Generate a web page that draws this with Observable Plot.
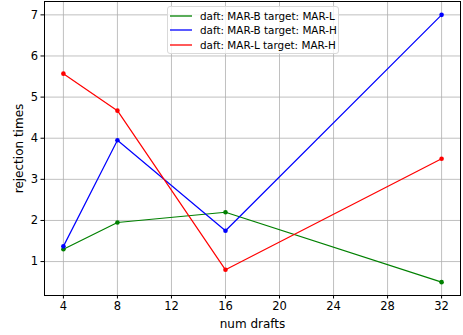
<!DOCTYPE html>
<html><head>
<meta charset="utf-8">
<script src="https://cdn.jsdelivr.net/npm/d3@7"></script>
<script src="https://cdn.jsdelivr.net/npm/@observablehq/plot@0.6"></script>
<style>
body{margin:0;background:#fff;font-family:"DejaVu Sans",sans-serif}
#wrap{position:relative;width:463px;height:335px}
#legend{position:absolute;left:167px;top:6px;width:172px;height:48px;border:1px solid #d9d9d9;border-radius:3px;background:rgba(255,255,255,0.8);box-sizing:border-box;font-size:10.4px;color:#000}
.row{position:absolute;left:0;height:14px;line-height:14px;white-space:nowrap}
.row svg{position:absolute;left:2px;top:0}
.row span{position:absolute;left:32px;top:0}
</style></head><body>
<div id="wrap"></div>
<script>
const drafts = [4, 8, 16, 32];
const seriesNames = ["daft: MAR-B target: MAR-L", "daft: MAR-B target: MAR-H", "daft: MAR-L target: MAR-H"];
const seriesColors = ["green", "blue", "red"];
const marbMarl = [1.3, 1.95, 2.2, 0.5];
const marbMarh = [1.37, 3.95, 1.75, 7.0];
const marlMarh = [5.57, 4.67, 0.8, 3.5];
const xTicks = [4, 8, 12, 16, 20, 24, 28, 32];
const yTicks = [1, 2, 3, 4, 5, 6, 7];

const seriesValues = [marbMarl, marbMarh, marlMarh];
const data = [];
seriesValues.forEach((vals, i) => vals.forEach((v, j) => data.push({series: seriesNames[i], x: drafts[j], y: v})));

const chart = Plot.plot({
  width: 463, height: 335,
  marginLeft: 44, marginRight: 3, marginTop: 1, marginBottom: 40,
  style: {fontFamily: "DejaVu Sans, sans-serif", fontSize: "11.5px", color: "#000", background: "#fff", overflow: "visible"},
  x: {domain: [2.6, 33.4]},
  y: {domain: [0.175, 7.325]},
  color: {domain: seriesNames, range: seriesColors},
  marks: [
    Plot.gridX(xTicks, {stroke: "#b0b0b0", strokeOpacity: 1, strokeWidth: 0.8}),
    Plot.gridY(yTicks, {stroke: "#b0b0b0", strokeOpacity: 1, strokeWidth: 0.8}),
    Plot.axisX(xTicks, {tickSize: 3.5, tickPadding: 3, fontSize: 11.5, label: "num drafts", labelAnchor: "center", labelArrow: "none", labelOffset: 32, stroke: "#000"}),
    Plot.axisY(yTicks, {tickSize: 3.5, tickPadding: 3, fontSize: 11.5, label: "rejection times", labelAnchor: "center", labelArrow: "none", labelOffset: 30, stroke: "#000"}),
    Plot.line(data, {x: "x", y: "y", z: "series", stroke: "series", strokeWidth: 1.2}),
    Plot.dot(data, {x: "x", y: "y", fill: "series", r: 2.3}),
    Plot.frame({stroke: "#000", strokeWidth: 1})
  ]
});
chart.querySelectorAll("g[aria-label='x-axis label'] text, g[aria-label='y-axis label'] text").forEach(t => t.setAttribute("font-size", "12px"));
const wrap = document.getElementById("wrap");
wrap.appendChild(chart);

const legend = d3.select(wrap).append("div").attr("id", "legend");
seriesNames.forEach((name, i) => {
  const row = legend.append("div").attr("class", "row").style("top", (1.5 + i * 14.7) + "px");
  const s = row.append("svg").attr("width", 26).attr("height", 14);
  s.append("line").attr("x1", 0).attr("x2", 22).attr("y1", 7).attr("y2", 7).attr("stroke", seriesColors[i]).attr("stroke-width", 1.3);
  row.append("span").text(name);
});
</script>
</body></html>
